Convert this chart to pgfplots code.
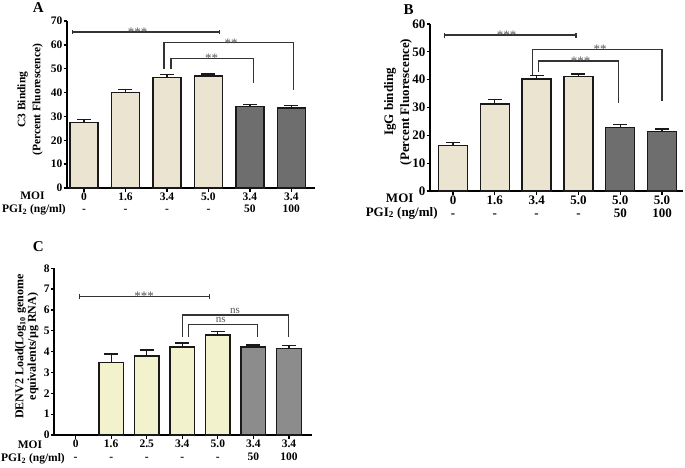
\documentclass[border=0pt]{standalone}
\usepackage{fontspec}
\setmainfont{Liberation Serif}
\usepackage{pgfplots}
\pgfplotsset{compat=1.18}
\definecolor{beige}{HTML}{EBE4D1}
\definecolor{dgray}{HTML}{6E6E6E}
\definecolor{pyel}{HTML}{F2F2CC}
\definecolor{mgray}{HTML}{8C8C8C}
\definecolor{stargray}{HTML}{555555}
\pgfplotsset{
 panel/.style={
  scale only axis, clip=false,
  axis x line*=bottom, axis y line*=left,
  axis line style={line width=1.9pt, black},
  ymin=0, tick align=outside,
  major tick length=3.5pt,
  every tick/.style={black, line width=1.3pt},
  /pgf/number format/assume math mode=true,
  yticklabel={\pgfmathprintnumber{\tick}},
  xticklabel style={align=center, inner sep=1pt},
  yticklabel style={inner sep=1pt},
 },
 bars/.style 2 args={ybar, bar shift=0pt, draw=black!90, line width=1.3pt, fill=#1, bar width=#2,
   error bars/.cd, y dir=plus, y explicit,
   error bar style={line width=1.3pt, black!90},
   error mark options={rotate=90, mark size=7pt, line width=1.3pt, black!90}},
 brk/.style={sharp plot, line width=1.3pt, color=black!80, mark=none, forget plot},
}
\tikzset{stars/.style={anchor=base, yshift=-4.3pt, text=stargray, font=\fontsize{13}{13}\selectfont},
 nslab/.style={anchor=base, yshift=1.5pt, text=stargray, font=\fontsize{11}{11}\selectfont}}
\begin{document}
\begin{tikzpicture}
\useasboundingbox (0pt,0pt) rectangle (685pt,467pt);
% ---------------- Panel A
\begin{axis}[panel, at={(67pt,279pt)}, anchor=south west,
  width=248pt, height=167pt, xmin=-0.41, xmax=5.57, ymax=70,
  ytick={0,10,...,70}, xtick={0,...,5},
  xticklabels={{0\\-},{1.6\\-},{3.4\\-},{5.0\\-},{3.4\\50},{3.4\\100}},
  ticklabel style={font=\bfseries\fontsize{11.5}{12.6}\selectfont}]
\addplot[bars={beige}{28pt}] coordinates {(0,27.6) +- (0,1.0) (1,40.0) +- (0,1.4) (2,46.4) +- (0,1.2) (3,46.9) +- (0,0.9)};
\addplot[bars={dgray}{28pt}] coordinates {(4,34.2) +- (0,0.9) (5,33.5) +- (0,1.1)};
\addplot[brk] coordinates {(-0.27,64.4) (-0.27,66.4)};
\addplot[brk] coordinates {(-0.27,65.4) (3.27,65.4)};
\addplot[brk] coordinates {(3.27,64.4) (3.27,66.4)};
\addplot[brk] coordinates {(1.93,49.8) (1.93,60.9) (5.05,60.9) (5.05,41.1)};
\addplot[brk] coordinates {(2.10,49.9) (2.10,54.2) (4.09,54.2) (4.09,43.9)};
\node[stars] at (axis cs:1.29,65.4) {***};
\node[stars] at (axis cs:3.55,60.9) {**};
\node[stars] at (axis cs:3.08,54.2) {**};
\end{axis}
\node[anchor=base, font=\bfseries\fontsize{11.5}{12}\selectfont] at (32.5pt,267.3pt) {MOI};
\node[anchor=base, font=\bfseries\fontsize{11.5}{12}\selectfont] at (34pt,254.7pt) {PGI\textsubscript{2} (ng/ml)};
\node[rotate=90, align=center, font=\bfseries\fontsize{11.5}{15}\selectfont] at (30.2pt,367.3pt) {C3 Binding\\(Percent Fluorescence)};
\node[anchor=base, font=\bfseries\fontsize{15}{15}\selectfont] at (38.3pt,454.3pt) {A};
% ---------------- Panel B
\begin{axis}[panel, at={(430pt,276pt)}, anchor=south west,
  width=253pt, height=167pt, xmin=-0.55, xmax=5.50, ymax=60,
  ytick={0,10,...,60}, xtick={0,...,5},
  xticklabels={{0\\-},{1.6\\-},{3.4\\-},{5.0\\-},{5.0\\50},{5.0\\100}},
  ticklabel style={font=\bfseries\fontsize{13}{13.3}\selectfont}]
\addplot[bars={beige}{29pt}] coordinates {(0,16.3) +- (0,1.1) (1,31.3) +- (0,1.5) (2,40.2) +- (0,1.2) (3,41.1) +- (0,0.9)};
\addplot[bars={dgray}{29pt}] coordinates {(4,22.8) +- (0,1.0) (5,21.3) +- (0,1.0)};
\addplot[brk] coordinates {(-0.21,55.1) (-0.21,56.9)};
\addplot[brk] coordinates {(-0.21,56.0) (2.94,56.0)};
\addplot[brk] coordinates {(2.94,55.1) (2.94,56.9)};
\addplot[brk] coordinates {(1.90,41.6) (1.90,50.9) (5.0,50.9) (5.0,32.3)};
\addplot[brk] coordinates {(2.04,42.9) (2.04,46.7) (3.96,46.7) (3.96,31.7)};
\node[stars] at (axis cs:1.28,56.0) {***};
\node[stars] at (axis cs:3.52,50.9) {**};
\node[stars] at (axis cs:3.05,46.7) {***};
\end{axis}
\node[anchor=base, font=\bfseries\fontsize{13}{13}\selectfont] at (399.7pt,264.3pt) {MOI};
\node[anchor=base, font=\bfseries\fontsize{13}{13}\selectfont] at (401.7pt,251pt) {PGI\textsubscript{2} (ng/ml)};
\node[rotate=90, align=center, font=\bfseries\fontsize{13}{16}\selectfont] at (398pt,365pt) {IgG binding\\(Percent Fluorescence)};
\node[anchor=base, font=\bfseries\fontsize{15}{15}\selectfont] at (408.7pt,452pt) {B};
% ---------------- Panel C
\begin{axis}[panel, at={(54.3pt,32pt)}, anchor=south west,
  width=257.4pt, height=166.7pt, xmin=-0.60, xmax=6.64, ymax=8,
  ytick={0,1,...,8}, xtick={0,...,6},
  xticklabels={{0\\-},{1.6\\-},{2.5\\-},{3.4\\-},{5.0\\-},{3.4\\50},{3.4\\100}},
  ticklabel style={font=\bfseries\fontsize{11.5}{13.4}\selectfont}]
\addplot[bars={pyel}{24.5pt}] coordinates {(1,3.47) +- (0,0.42) (2,3.79) +- (0,0.29) (3,4.22) +- (0,0.20) (4,4.80) +- (0,0.16)};
\addplot[bars={mgray}{24.5pt}] coordinates {(5,4.22) +- (0,0.10) (6,4.16) +- (0,0.13)};
\addplot[brk] coordinates {(0.10,6.53) (0.10,6.75)};
\addplot[brk] coordinates {(0.10,6.64) (3.76,6.64)};
\addplot[brk] coordinates {(3.76,6.53) (3.76,6.75)};
\addplot[brk] coordinates {(3.01,4.72) (3.01,5.76) (5.98,5.76) (5.98,4.72)};
\addplot[brk] coordinates {(3.17,4.72) (3.17,5.31) (5.11,5.31) (5.11,4.72)};
\node[stars] at (axis cs:1.93,6.64) {***};
\node[nslab] at (axis cs:4.48,5.76) {ns};
\node[nslab] at (axis cs:4.08,5.31) {ns};
\end{axis}
\node[anchor=base, font=\bfseries\fontsize{11.5}{12}\selectfont] at (30pt,18.7pt) {MOI};
\node[anchor=base, font=\bfseries\fontsize{11.5}{12}\selectfont] at (33pt,5.3pt) {PGI\textsubscript{2} (ng/ml)};
\node[rotate=90, align=center, font=\bfseries\fontsize{12}{12.5}\selectfont] at (26.9pt,120.5pt) {DENV2 Load(Log\textsubscript{10} genome\\equivalents/µg RNA)};
\node[anchor=base, font=\bfseries\fontsize{15}{15}\selectfont] at (38.3pt,215.3pt) {C};
\end{tikzpicture}
\end{document}
